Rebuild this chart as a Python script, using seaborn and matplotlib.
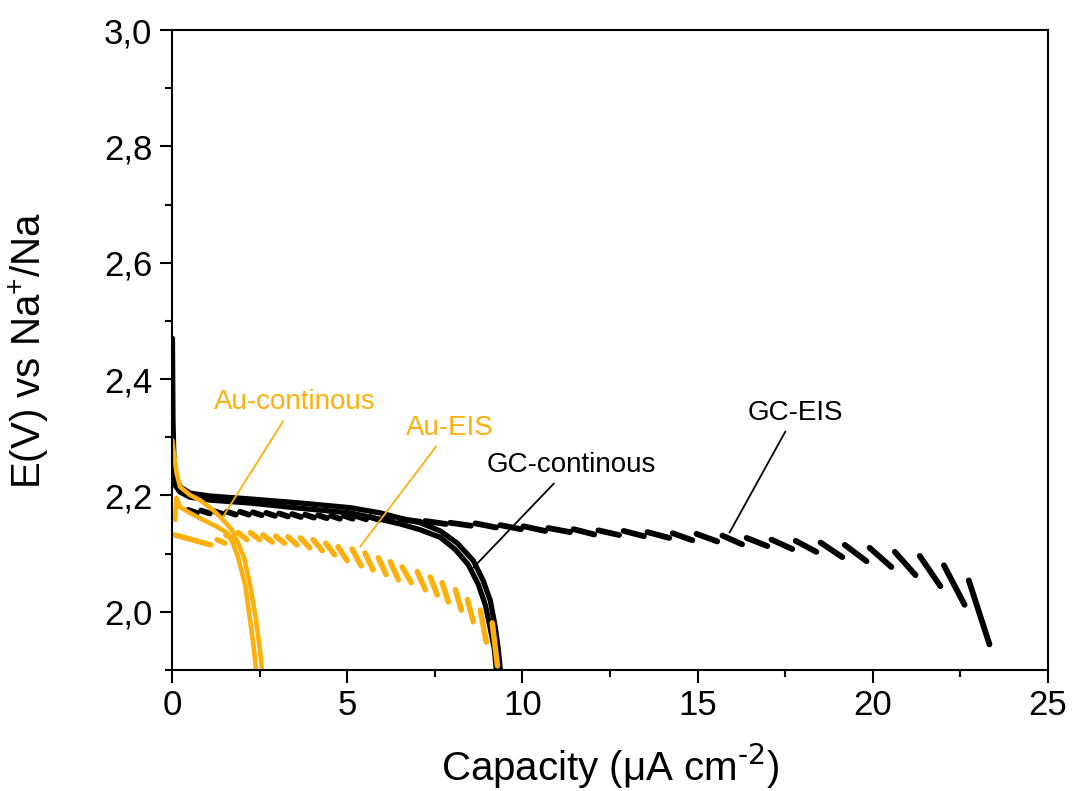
import pandas as pd
import matplotlib
matplotlib.use('Agg')
import matplotlib.pyplot as plt
from matplotlib.ticker import MultipleLocator
import seaborn as sns

# GC continuous discharge (two overlapping cycles)
gc_cont1_cap = [0.014, 0.029, 0.057, 0.114, 0.229, 0.514, 1.086, 2.229, 3.657, 5.086, 5.943, 6.514, 7.086,
                7.657, 8.143, 8.6, 8.886, 9.086, 9.229, 9.314, 9.371]
gc_cont1_v = [2.470, 2.330, 2.261, 2.230, 2.215, 2.204, 2.199, 2.194, 2.187, 2.179, 2.170, 2.161, 2.153,
              2.139, 2.118, 2.088, 2.053, 2.019, 1.973, 1.935, 1.900]
gc_cont2_cap = [0.029, 0.086, 0.229, 0.514, 1.086, 2.229, 3.657, 5.086, 5.943, 6.514, 7.086, 7.657,
                8.086, 8.457, 8.743, 8.943, 9.086, 9.2, 9.257]
gc_cont2_v = [2.244, 2.218, 2.206, 2.197, 2.192, 2.187, 2.178, 2.170, 2.159, 2.151, 2.141, 2.128,
              2.107, 2.081, 2.047, 2.012, 1.971, 1.936, 1.900]

# GC with EIS interruptions: each pulse runs from (cap0, v0) to (cap1, v1)
gc_eis_cap0 = [0.46, 0.83, 1.20, 1.57, 1.94, 2.31, 2.69, 3.06, 3.43, 3.80, 4.17, 4.54, 4.91, 5.29, 5.66, 6.03,
               6.51, 7.23, 7.94, 8.66, 9.37, 10.03, 10.74, 11.46, 12.17, 12.89, 13.57, 14.29, 14.97,
               15.71, 16.40, 17.11, 17.80, 18.51, 19.20, 19.91, 20.63, 21.34, 22.03, 22.74]
gc_eis_cap1 = [0.71, 1.08, 1.45, 1.82, 2.19, 2.56, 2.94, 3.31, 3.68, 4.05, 4.42, 4.79, 5.16, 5.54, 5.91, 6.28,
               7.08, 7.82, 8.53, 9.25, 9.96, 10.65, 11.36, 12.05, 12.76, 13.47, 14.19, 14.85, 15.56,
               16.27, 16.99, 17.70, 18.39, 19.13, 19.82, 20.53, 21.22, 21.93, 22.62, 23.33]
gc_eis_v0 = [2.175, 2.174, 2.173, 2.172, 2.172, 2.171, 2.170, 2.169, 2.168, 2.167, 2.166, 2.165, 2.165,
             2.164, 2.163, 2.162,
             2.159, 2.156, 2.153, 2.152, 2.149, 2.147, 2.144, 2.142, 2.140, 2.139, 2.137, 2.135, 2.134,
             2.131, 2.127, 2.124, 2.122, 2.119, 2.115, 2.110, 2.103, 2.096, 2.080, 2.054]
gc_eis_v1 = [2.170, 2.169, 2.168, 2.167, 2.167, 2.166, 2.165, 2.164, 2.163, 2.162, 2.161, 2.160, 2.160,
             2.159, 2.158, 2.157,
             2.155, 2.151, 2.148, 2.145, 2.142, 2.139, 2.137, 2.133, 2.132, 2.130, 2.127, 2.123, 2.121,
             2.116, 2.113, 2.108, 2.103, 2.094, 2.087, 2.077, 2.063, 2.044, 2.012, 1.944]

# Au continuous discharge (two cycles)
au_cont1_cap = [0.01, 0.06, 0.13, 0.23, 0.51, 0.8, 1.17, 1.46, 1.71, 1.89, 2.06, 2.23, 2.40, 2.51, 2.57]
au_cont1_v = [2.295, 2.270, 2.239, 2.215, 2.201, 2.192, 2.175, 2.158, 2.141, 2.118, 2.093, 2.046, 1.986,
              1.935, 1.900]
au_cont2_cap = [0.09, 0.13, 0.23, 0.51, 0.89, 1.29, 1.57, 1.74, 1.89, 2.09, 2.23, 2.34, 2.40]
au_cont2_v = [2.158, 2.196, 2.180, 2.170, 2.158, 2.146, 2.136, 2.118, 2.093, 2.046, 1.986, 1.935, 1.900]

# Au with EIS interruptions
au_eis_cap0 = [0.09, 1.29, 1.54, 1.89, 2.24, 2.60, 2.96, 3.31, 3.67, 4.03, 4.39, 4.74, 5.14, 5.51, 5.89,
               6.23, 6.57, 7.00, 7.37, 7.71, 8.09, 8.43, 8.80, 9.14]
au_eis_cap1 = [1.11, 1.51, 1.80, 2.14, 2.50, 2.86, 3.21, 3.57, 3.93, 4.29, 4.64, 5.00, 5.40, 5.74, 6.11,
               6.46, 6.83, 7.23, 7.57, 7.89, 8.26, 8.60, 8.97, 9.29]
au_eis_v0 = [2.132, 2.124, 2.132, 2.136, 2.136, 2.132, 2.130, 2.129, 2.127, 2.124, 2.118, 2.112, 2.108,
             2.101, 2.093, 2.086, 2.077, 2.069, 2.060, 2.050, 2.038, 2.021, 2.003, 1.981]
au_eis_v1 = [2.115, 2.118, 2.124, 2.124, 2.124, 2.120, 2.118, 2.115, 2.110, 2.105, 2.098, 2.088, 2.079,
             2.072, 2.064, 2.055, 2.050, 2.038, 2.029, 2.017, 2.003, 1.983, 1.948, 1.907]

x_ticks = [0, 5, 10, 15, 20, 25]
y_ticks = [2.0, 2.2, 2.4, 2.6, 2.8, 3.0]
y_tick_labels = ['2,0', '2,2', '2,4', '2,6', '2,8', '3,0']

orange = '#FDB00C'


def pulses(cap0, cap1, v0, v1):
    rows = []
    for i in range(len(cap0)):
        rows.append({'cap': cap0[i], 'volt': v0[i], 'seg': i})
        rows.append({'cap': cap1[i], 'volt': v1[i], 'seg': i})
    return pd.DataFrame(rows)


def curves(*pairs):
    frames = []
    for i, (c, v) in enumerate(pairs):
        frames.append(pd.DataFrame({'cap': c, 'volt': v, 'seg': i}))
    return pd.concat(frames, ignore_index=True)


gcCont = curves((gc_cont1_cap, gc_cont1_v), (gc_cont2_cap, gc_cont2_v))
gcEis = pulses(gc_eis_cap0, gc_eis_cap1, gc_eis_v0, gc_eis_v1)
auCont = curves((au_cont1_cap, au_cont1_v), (au_cont2_cap, au_cont2_v))
auEis = pulses(au_eis_cap0, au_eis_cap1, au_eis_v0, au_eis_v1)

sns.set_style('ticks')
plt.rcParams['font.family'] = ['Liberation Sans', 'DejaVu Sans']
plt.rcParams['mathtext.default'] = 'regular'
plt.rcParams['axes.unicode_minus'] = False

fig = plt.figure(figsize=(10.72, 7.91), dpi=100)
ax = fig.add_axes([0.1604, 0.153, 0.8172, 0.809])

common = dict(x='cap', y='volt', units='seg', estimator=None, sort=False, legend=False, ax=ax,
              solid_capstyle='round')
sns.lineplot(data=gcCont, color='black', lw=3.8, **common)
sns.lineplot(data=gcEis, color='black', lw=4.2, **common)
sns.lineplot(data=auCont, color=orange, lw=3.3, **common)
sns.lineplot(data=auEis, color=orange, lw=4.0, **common)

ax.set_xlim(0, 25)
ax.set_ylim(1.9, 3.0)
ax.set_xticks(x_ticks)
ax.set_xticklabels([str(t) for t in x_ticks])
ax.set_yticks(y_ticks)
ax.set_yticklabels(y_tick_labels)
ax.xaxis.set_minor_locator(MultipleLocator(2.5))
ax.yaxis.set_minor_locator(MultipleLocator(0.1))
ax.tick_params(which='major', direction='out', length=9, width=1.5, labelsize=25, pad=5, colors='black')
ax.tick_params(which='minor', direction='out', length=5, width=1.5, colors='black')
for s in ax.spines.values():
    s.set_linewidth(1.5)
    s.set_color('black')

ax.set_xlabel(r'Capacity (μA cm$^{\text{-2}}$)', fontsize=29, labelpad=14, color='black')
ax.set_ylabel('E(V) vs Na$^{+}$/Na', fontsize=29, labelpad=38, color='black')

arrow = dict(arrowstyle='-', lw=1.3, shrinkA=2, shrinkB=0)
ax.annotate('Au-continous', xy=(1.43, 2.161), xytext=(3.51, 2.36), color=orange, fontsize=20,
            ha='center', va='center', arrowprops=dict(arrow, color=orange))
ax.annotate('Au-EIS', xy=(5.37, 2.112), xytext=(7.94, 2.316), color=orange, fontsize=20,
            ha='center', va='center', arrowprops=dict(arrow, color=orange))
ax.annotate('GC-continous', xy=(8.6, 2.076), xytext=(11.4, 2.252), color='black', fontsize=20,
            ha='center', va='center', arrowprops=dict(arrow, color='black'))
ax.annotate('GC-EIS', xy=(15.91, 2.136), xytext=(17.8, 2.342), color='black', fontsize=20,
            ha='center', va='center', arrowprops=dict(arrow, color='black'))

fig.savefig('out.png', dpi=100)
